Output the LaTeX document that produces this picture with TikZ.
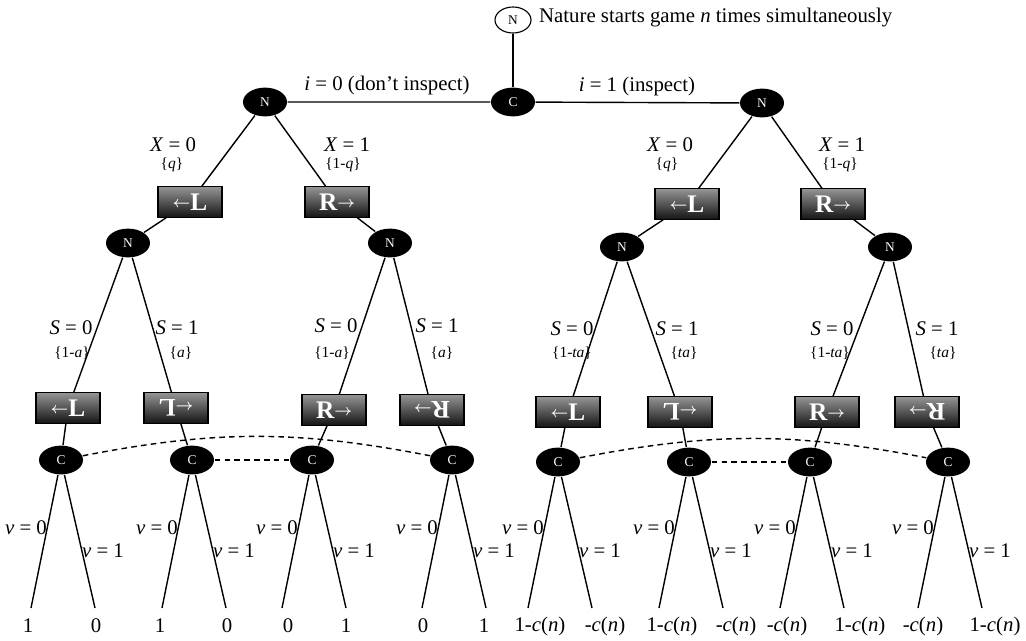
\documentclass[tikz,border=0pt]{standalone}
\usepackage{amsmath}
\usepackage{fontspec}
\setmainfont{Liberation Serif}
\usetikzlibrary{shapes.geometric}

\newcommand\moveL{\raisebox{2pt}{\fontsize{11}{11}\selectfont$\boldsymbol{\leftarrow}$}L}
\newcommand\moveR{R\raisebox{2pt}{\fontsize{11}{11}\selectfont$\boldsymbol{\rightarrow}$}}
\newcommand\gain{1-\textit{c}(\textit{n})}
\newcommand\cost{-\textit{c}(\textit{n})}

\begin{document}
\begin{tikzpicture}[x=0.025cm, y=-0.025cm, line width=1pt,
    chance/.style={ellipse, fill=black, text=white, minimum width=1.1cm, minimum height=0.72cm, inner sep=0pt, font=\fontsize{9.5}{9.5}\selectfont},
    move/.style={draw=black, line width=0.8pt, rectangle, minimum width=1.6cm, minimum height=0.76cm, inner sep=0pt, top color=black!42, bottom color=black!92, text=white, font=\fontsize{18}{18}\selectfont\bfseries},
    flip/.style={move, rotate=180},
    lab/.style={font=\fontsize{14.8}{16}\selectfont, inner sep=1pt},
    prob/.style={font=\fontsize{11}{12}\selectfont, inner sep=0.5pt}]
  \useasboundingbox (0,0) rectangle (1026,640);

  % root
  \node[ellipse, draw, line width=0.8pt, minimum width=0.9cm, minimum height=0.65cm, inner sep=0pt, font=\fontsize{9.5}{9.5}\selectfont] (nat) at (513,20) {N};
  \node[lab, anchor=west] (start) at (537,18) {Nature starts game \textit{n} times simultaneously};
  \node[chance] (c0) at (513,102) {C};
  \node[chance] (nl) at (265,102) {N};
  \node[chance] (nr) at (762,103) {N};
  \draw (nat) -- (c0);
  \draw (nl) -- (c0) -- (nr);
  \node[lab] (ilab0) at (387,85) {\textit{i} = 0 (don't inspect)};
  \node[lab] (ilab1) at (637,86) {\textit{i} = 1 (inspect)};

  % don't inspect
  \node[move] (ml) at (190,202) {\moveL};
  \node[move] (mr) at (337,202) {\moveR};
  \node[chance] (n1) at (128,243) {N};
  \node[chance] (n2) at (390,243) {N};
  \draw (nl) -- (ml) -- (n1);
  \draw (nl) -- (mr) -- (n2);
  \node[lab] (x0l) at (173,145) {\textit{X} = 0};
  \node[prob] (q0l) at (172,165) {\{\textit{q}\}};
  \node[lab] (x1l) at (347,145) {\textit{X} = 1};
  \node[prob] (q1l) at (343,165) {\{1-\textit{q}\}};

  \node[move] (s11) at (68,408) {\moveL};
  \node[flip] (s12) at (176,408) {\moveL};
  \node[move] (s21) at (334,410) {\moveR};
  \node[flip] (s22) at (432,410) {\moveR};
  \node[chance] (c1) at (61,460) {C};
  \node[chance] (c2) at (192,460) {C};
  \node[chance] (c3) at (312,460) {C};
  \node[chance] (c4) at (452,460) {C};
  \draw (n1) -- (s11) -- (c1);
  \draw (n1) -- (s12) -- (c2);
  \draw (n2) -- (s21) -- (c3);
  \draw (n2) -- (s22) -- (c4);
  \node[lab] (sa) at (71,328) {\textit{S} = 0};
  \node[prob] (pa) at (72,353) {\{1-\textit{a}\}};
  \node[lab] (sb) at (177,328) {\textit{S} = 1};
  \node[prob] (pb) at (181,353) {\{\textit{a}\}};
  \node[lab] (sc) at (336,326) {\textit{S} = 0};
  \node[prob] (pc) at (332,353) {\{1-\textit{a}\}};
  \node[lab] (sd) at (437,326) {\textit{S} = 1};
  \node[prob] (pd) at (442,353) {\{\textit{a}\}};
  \draw[dashed, dash pattern=on 4pt off 3pt] (c1) to[bend left=11] (c4);
  \draw[dashed, dash pattern=on 4pt off 3pt] (c2) -- (c3);

  % inspect
  \node[move] (ml2) at (687,204) {\moveL};
  \node[move] (mr2) at (833,204) {\moveR};
  \node[chance] (n3) at (622,247) {N};
  \node[chance] (n4) at (890,247) {N};
  \draw (nr) -- (ml2) -- (n3);
  \draw (nr) -- (mr2) -- (n4);
  \node[lab] (x0r) at (670,145) {\textit{X} = 0};
  \node[prob] (q0r) at (667,165) {\{\textit{q}\}};
  \node[lab] (x1r) at (842,145) {\textit{X} = 1};
  \node[prob] (q1r) at (840,165) {\{1-\textit{q}\}};

  \node[move] (s31) at (568,412) {\moveL};
  \node[flip] (s32) at (680,412) {\moveL};
  \node[move] (s41) at (827,412) {\moveR};
  \node[flip] (s42) at (927,412) {\moveR};
  \node[chance] (c5) at (558,462) {C};
  \node[chance] (c6) at (689,462) {C};
  \node[chance] (c7) at (810,462) {C};
  \node[chance] (c8) at (948,462) {C};
  \draw (n3) -- (s31) -- (c5);
  \draw (n3) -- (s32) -- (c6);
  \draw (n4) -- (s41) -- (c7);
  \draw (n4) -- (s42) -- (c8);
  \node[lab] (se) at (572,329) {\textit{S} = 0};
  \node[prob] (pe) at (572,353) {\{1-\textit{ta}\}};
  \node[lab] (sf) at (677,329) {\textit{S} = 1};
  \node[prob] (pf) at (684,353) {\{\textit{ta}\}};
  \node[lab] (sg) at (832,329) {\textit{S} = 0};
  \node[prob] (pg) at (830,353) {\{1-\textit{ta}\}};
  \node[lab] (sh) at (937,329) {\textit{S} = 1};
  \node[prob] (ph) at (943,353) {\{\textit{ta}\}};
  \draw[dashed, dash pattern=on 4pt off 3pt] (c5) to[bend left=11] (c8);
  \draw[dashed, dash pattern=on 4pt off 3pt] (c6) -- (c7);

  % verification and payoffs
  \foreach \c/\x/\la/\xa/\lb/\xb in {c1/61/1/28/0/96, c2/192/1/160/0/227, c3/312/0/288/1/346, c4/452/0/423/1/484,
      c5/558/\gain/540/\cost/605, c6/689/\gain/672/\cost/736, c7/810/\cost/787/\gain/860, c8/948/\cost/923/\gain/995} {
    \coordinate (\c a) at (\x-30,608);
    \coordinate (\c b) at (\x+34,608);
    \draw (\c) -- (\c a);
    \draw (\c) -- (\c b);
    \node[lab] (v0\c) at (\x-35,528) {\textit{v} = 0};
    \node[lab] (v1\c) at (\x+42,551) {\textit{v} = 1};
    \node[lab] (pay0\c) at (\xa,626) {\la};
    \node[lab] (pay1\c) at (\xb,626) {\lb};
  }
\end{tikzpicture}
\end{document}
